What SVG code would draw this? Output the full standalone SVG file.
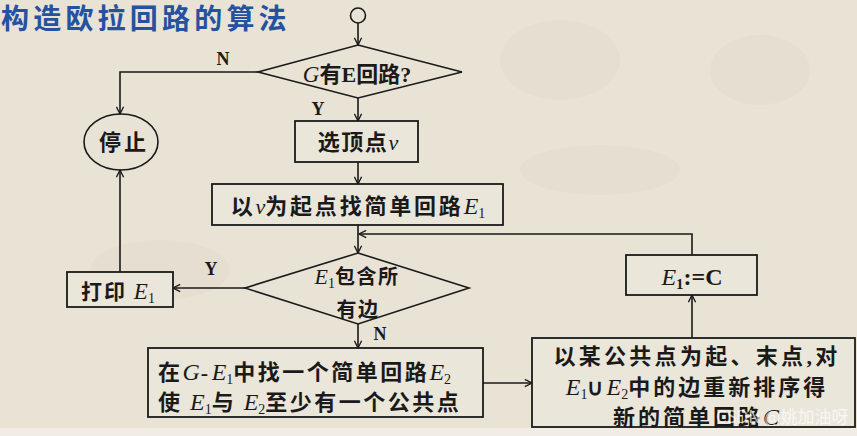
<svg xmlns="http://www.w3.org/2000/svg" width="857" height="436" viewBox="0 0 857 436">
<defs>
<style>
.bg{fill:#e9e3d6}
.shape{fill:none;stroke:#1a1a1a;stroke-width:1.6}
.box{fill:#ebe6da;stroke:#1a1a1a;stroke-width:1.8}
.line{fill:none;stroke:#1a1a1a;stroke-width:1.6}
.cn{font-family:"Noto Sans CJK SC","Noto Sans",sans-serif;font-weight:700;fill:#1a1a1a}
.it{font-family:"Liberation Serif",serif;font-style:italic;font-weight:400;letter-spacing:0}
.rm{font-family:"Liberation Serif",serif;font-weight:700}
.sub{font-family:"Liberation Serif",serif;font-weight:400;font-size:14px;letter-spacing:0}
.lbl{font-family:"Liberation Serif",serif;font-weight:700;font-size:18px;fill:#1a1a1a}
.title{font-family:"Noto Sans CJK SC",sans-serif;font-weight:700;font-size:28px;fill:#2452a0;letter-spacing:4.2px}
.wm{font-family:"Noto Sans CJK SC",sans-serif;font-size:17px;fill:#ffffff;fill-opacity:0.7}
</style>
<marker id="arr" viewBox="0 0 10 10" refX="9" refY="5" markerWidth="9" markerHeight="9" markerUnits="userSpaceOnUse" orient="auto">
<path d="M1,1 L9,5 L1,9" fill="none" stroke="#1a1a1a" stroke-width="1.5"/>
</marker>
</defs>
<rect class="bg" x="0" y="0" width="857" height="436"/>
<g opacity="0.18" fill="#d6cdbd">
<ellipse cx="560" cy="60" rx="60" ry="40"/>
<ellipse cx="760" cy="70" rx="50" ry="35"/>
<ellipse cx="600" cy="170" rx="80" ry="25"/>
<ellipse cx="160" cy="270" rx="70" ry="30"/>
</g>
<rect x="0" y="428" width="857" height="8" fill="#f1ede4"/>
<text class="title" x="1" y="29">构造欧拉回路的算法</text>

<g id="connectors">
<path class="line" d="M358,23 V45" marker-end="url(#arr)"/>
<path class="line" d="M258,72 H120 V114" marker-end="url(#arr)"/>
<path class="line" d="M358,98 V121" marker-end="url(#arr)"/>
<path class="line" d="M358,162 V184" marker-end="url(#arr)"/>
<path class="line" d="M358,225 V253" marker-end="url(#arr)"/>
<path class="line" d="M692,255 V234 H359" marker-end="url(#arr)"/>
<path class="line" d="M245,288 H173" marker-end="url(#arr)"/>
<path class="line" d="M120,272 V170" marker-end="url(#arr)"/>
<path class="line" d="M358,324 V348" marker-end="url(#arr)"/>
<path class="line" d="M483,383 H532" marker-end="url(#arr)"/>
<path class="line" d="M692,338 V295" marker-end="url(#arr)"/>
<text class="lbl" x="223" y="65" text-anchor="middle">N</text>
<text class="lbl" x="318" y="115" text-anchor="middle">Y</text>
<text class="lbl" x="211" y="275" text-anchor="middle">Y</text>
<text class="lbl" x="380" y="340" text-anchor="middle">N</text>
</g>

<g id="start">
<circle class="shape" cx="358" cy="15.5" r="7.5"/>
</g>

<g id="decision1">
<polygon class="shape" points="358,45 462,72 358,98 258,72"/>
<text class="cn" x="357" y="82" font-size="22" text-anchor="middle"><tspan class="it" font-size="23">G</tspan>有<tspan class="rm" font-size="22">E</tspan>回路<tspan class="rm" font-size="22">?</tspan></text>
</g>

<g id="stop">
<ellipse class="shape" cx="121" cy="142" rx="37" ry="28"/>
<text class="cn" x="124" y="150" font-size="22" letter-spacing="3" text-anchor="middle">停止</text>
</g>

<g id="select">
<rect class="box" x="295" y="121" width="123" height="41"/>
<text class="cn" x="358" y="150" font-size="22" letter-spacing="1.5" text-anchor="middle">选顶点<tspan class="it" font-size="22">v</tspan></text>
</g>

<g id="findE1">
<rect class="box" x="212" y="184" width="291" height="41"/>
<text class="cn" x="358" y="214" font-size="22" letter-spacing="2.8" text-anchor="middle">以<tspan class="it">v</tspan>为起点找简单回路<tspan class="it" font-size="24">E</tspan><tspan class="sub" dy="4">1</tspan></text>
</g>

<g id="decision2">
<polygon class="shape" points="358,253 469,288 358,324 245,288"/>
<text class="cn" x="357" y="284" font-size="20" letter-spacing="1.5" text-anchor="middle"><tspan class="it" font-size="22">E</tspan><tspan class="sub" font-size="13" dy="4">1</tspan><tspan dy="-4">包含所</tspan></text>
<text class="cn" x="358" y="317" font-size="20" letter-spacing="1.5" text-anchor="middle">有边</text>
</g>

<g id="print">
<rect class="box" x="67" y="272" width="106" height="35"/>
<text class="cn" x="118" y="299" font-size="21" letter-spacing="2" text-anchor="middle">打印 <tspan class="it" font-size="23">E</tspan><tspan class="sub" dy="4">1</tspan></text>
</g>

<g id="findE2">
<rect class="box" x="148" y="348" width="335" height="69"/>
<text class="cn" x="158" y="380" font-size="22" letter-spacing="2.5">在<tspan class="it" font-size="24">G</tspan><tspan class="rm" font-size="22" font-weight="400" dx="1">-</tspan><tspan class="it" font-size="24" dx="1">E</tspan><tspan class="sub" dy="4">1</tspan><tspan dy="-4">中找一个简单回路</tspan><tspan class="it" font-size="24">E</tspan><tspan class="sub" dy="4">2</tspan></text>
<text class="cn" x="158" y="410" font-size="22" letter-spacing="2.5">使 <tspan class="it" font-size="24">E</tspan><tspan class="sub" dy="4">1</tspan><tspan dy="-4">与 </tspan><tspan class="it" font-size="24">E</tspan><tspan class="sub" dy="4">2</tspan><tspan dy="-4">至少有一个公共点</tspan></text>
</g>

<g id="reorder">
<rect class="box" x="532" y="338" width="323" height="89"/>
<text class="cn" x="697" y="364" font-size="22" letter-spacing="3.3" text-anchor="middle">以某公共点为起、末点<tspan class="rm">,</tspan>对</text>
<text class="cn" x="697" y="395" font-size="22" letter-spacing="3" text-anchor="middle"><tspan class="it" font-size="24">E</tspan><tspan class="sub" dy="4">1</tspan><tspan dy="-4" class="rm" font-weight="400">∪</tspan><tspan class="it" font-size="24">E</tspan><tspan class="sub" dy="4">2</tspan><tspan dy="-4">中的边重新排序得</tspan></text>
<text class="cn" x="696" y="425" font-size="22" letter-spacing="3" text-anchor="middle">新的简单回路<tspan class="it" font-size="24">C</tspan></text>
<text class="wm" x="716" y="423">CSDN @姚加油呀</text>
</g>

<g id="assign">
<rect class="box" x="626" y="255" width="131" height="40"/>
<text class="rm" x="692" y="285" font-size="24" text-anchor="middle" fill="#1a1a1a"><tspan class="it" font-weight="700">E</tspan><tspan font-size="15" dy="4">1</tspan><tspan dy="-4">:=C</tspan></text>
</g>
</svg>
